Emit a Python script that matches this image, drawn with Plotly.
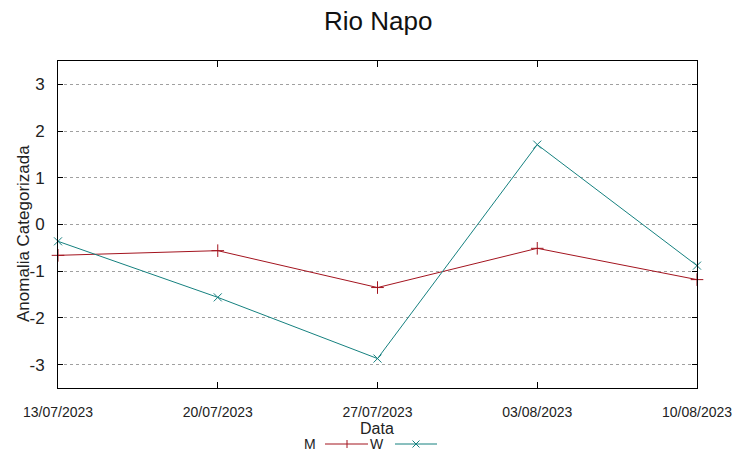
import plotly.graph_objects as go

dates = ["2023-07-13", "2023-07-20", "2023-07-27", "2023-08-03", "2023-08-10"]
date_labels = ["13/07/2023", "20/07/2023", "27/07/2023", "03/08/2023", "10/08/2023"]
m_values = [-0.66, -0.56, -1.35, -0.51, -1.18]
w_values = [-0.36, -1.56, -2.87, 1.71, -0.88]
y_ticks = [-3, -2, -1, 0, 1, 2, 3]
y_labels = ["-3", "-2", "-1", "0", "1", "2", "3"]

M_COLOR = "#a3141f"
W_COLOR = "#15807f"
FONT = "Liberation Sans"

# page has an 8px body margin; figure coordinates = viewport - 8
OFF = 8
W, H = 752 - OFF, 458 - OFF
PL, PR, PT, PB = 58 - OFF, 697 - OFF, 61 - OFF, 388 - OFF
PW, PH = PR - PL, PB - PT


def px(xv):  # viewport x pixel -> paper
    return (xv - OFF - PL) / PW


def py(yv):  # viewport y pixel -> paper
    return (PB - (yv - OFF)) / PH


fig = go.Figure()
fig.add_trace(go.Scatter(
    x=dates, y=m_values, name="M", mode="lines+markers",
    line=dict(color=M_COLOR, width=1),
    marker=dict(symbol="cross-thin", size=9, line=dict(color=M_COLOR, width=1)),
    cliponaxis=False,
))
fig.add_trace(go.Scatter(
    x=dates, y=w_values, name="W", mode="lines+markers",
    line=dict(color=W_COLOR, width=1),
    marker=dict(symbol="x-thin", size=8, line=dict(color=W_COLOR, width=1)),
    cliponaxis=False,
))

fig.update_layout(
    width=W, height=H,
    margin=dict(l=PL, r=W - PR, t=PT, b=H - PB, autoexpand=False),
    paper_bgcolor="white", plot_bgcolor="white",
    showlegend=False,
    font=dict(family=FONT, size=17, color="#222"),
    xaxis=dict(
        type="date", range=[dates[0], dates[-1]],
        tickvals=dates, ticktext=date_labels,
        ticks="inside", ticklen=6, tickcolor="black",
        showline=True, linecolor="black", linewidth=1, mirror="ticks",
        showgrid=False, zeroline=False, automargin=False,
        tickfont=dict(size=14), ticklabelstandoff=11,
    ),
    yaxis=dict(
        range=[-3.5, 3.5], tickvals=y_ticks, ticktext=y_labels,
        ticks="inside", ticklen=5, tickcolor="black",
        showline=True, linecolor="black", linewidth=1, mirror="ticks",
        showgrid=True, gridcolor="#a0a0a0", griddash="dot", gridwidth=1,
        zeroline=False, automargin=False,
        tickfont=dict(size=17), ticklabelstandoff=9,
    ),
)

# title
fig.add_annotation(text="Rio Napo", x=0.5, xref="paper", y=py(21), yref="paper",
                   showarrow=False, xanchor="center", yanchor="middle",
                   borderpad=0, font=dict(size=26, color="#111"))

# axis titles
fig.add_annotation(text="Anomalia Categorizada", x=px(23), xref="paper",
                   y=py(234), yref="paper", textangle=-90, showarrow=False,
                   xanchor="center", yanchor="middle",
                   font=dict(size=17, color="#222"))
fig.add_annotation(text="Data", x=px(377), xref="paper", y=py(428), yref="paper",
                   showarrow=False, xanchor="center", yanchor="middle",
                   borderpad=0, font=dict(size=16, color="#222"))

# gnuplot-style legend: label then sample
leg = 444
fig.add_annotation(text="M", x=px(310), xref="paper", y=py(leg), yref="paper",
                   showarrow=False, xanchor="center", yanchor="middle",
                   borderpad=0, font=dict(size=14, color="#222"))
fig.add_annotation(text="W", x=px(377), xref="paper", y=py(leg), yref="paper",
                   showarrow=False, xanchor="center", yanchor="middle",
                   borderpad=0, font=dict(size=14, color="#222"))


def seg(x0, y0, x1, y1, color):
    fig.add_shape(type="line", xref="paper", yref="paper",
                  x0=px(x0), x1=px(x1), y0=py(y0), y1=py(y1),
                  line=dict(color=color, width=1))


seg(325, leg, 368, leg, M_COLOR)
seg(347, leg - 4, 347, leg + 4, M_COLOR)
seg(395, leg, 437, leg, W_COLOR)
seg(412.5, leg - 3.5, 419.5, leg + 3.5, W_COLOR)
seg(412.5, leg + 3.5, 419.5, leg - 3.5, W_COLOR)

fig.write_html("out.html")
